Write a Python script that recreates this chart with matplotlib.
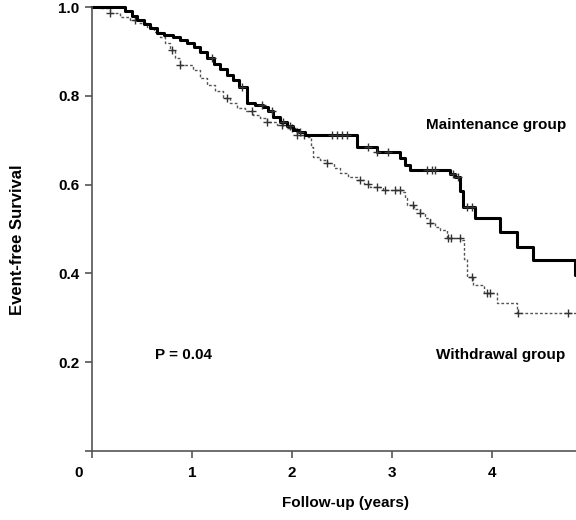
import numpy as np
import matplotlib.pyplot as plt

plt.rcParams['font.family'] = ['Liberation Sans', 'DejaVu Sans']

# Kaplan-Meier steps (time in years, survival)
maint_t = [0, 0.33, 0.40, 0.45, 0.52, 0.58, 0.65, 0.72, 0.81, 0.88, 0.95, 1.02, 1.08, 1.15, 1.22,
           1.28, 1.35, 1.41, 1.47, 1.55, 1.63, 1.71, 1.76, 1.81, 1.88, 1.95, 2.01, 2.07, 2.13, 2.65,
           2.85, 3.08, 3.13, 3.18, 3.58, 3.63, 3.68, 3.71, 3.83, 4.08, 4.25, 4.41, 4.83, 4.84]
maint_s = [1.0, 0.99, 0.98, 0.971, 0.962, 0.952, 0.941, 0.937, 0.932, 0.926, 0.919, 0.91, 0.898, 0.885, 0.872,
           0.86, 0.848, 0.836, 0.82, 0.784, 0.78, 0.775, 0.765, 0.752, 0.742, 0.733, 0.723, 0.718, 0.712, 0.685,
           0.674, 0.66, 0.645, 0.633, 0.625, 0.618, 0.585, 0.550, 0.525, 0.494, 0.460, 0.430, 0.396, 0.396]
maint_cens = [1.2, 1.5, 1.7, 1.8, 1.91, 1.98, 2.08, 2.40, 2.45, 2.50, 2.55, 2.76, 2.85, 2.96,
              3.35, 3.40, 3.43, 3.61, 3.66, 3.75, 3.80]

wd_t = [0, 0.08, 0.18, 0.28, 0.38, 0.47, 0.55, 0.62, 0.68, 0.73, 0.78, 0.83, 0.88, 1.01, 1.08,
        1.15, 1.23, 1.31, 1.38, 1.45, 1.53, 1.61, 1.68, 1.75, 1.85, 1.95, 2.05, 2.16, 2.19, 2.21,
        2.28, 2.35, 2.42, 2.48, 2.56, 2.65, 2.72, 2.78, 2.91, 3.11, 3.13, 3.15, 3.22, 3.28, 3.33,
        3.38, 3.43, 3.48, 3.55, 3.70, 3.72, 3.75, 3.81, 3.92, 4.05, 4.25, 4.84]
wd_s = [1.0, 0.998, 0.986, 0.978, 0.971, 0.963, 0.955, 0.944, 0.932, 0.918, 0.903, 0.886, 0.869, 0.858, 0.841,
        0.824, 0.81, 0.795, 0.783, 0.772, 0.765, 0.757, 0.749, 0.741, 0.734, 0.727, 0.712, 0.707, 0.685, 0.662,
        0.655, 0.648, 0.637, 0.626, 0.618, 0.610, 0.602, 0.595, 0.588, 0.584, 0.569, 0.554, 0.545, 0.536, 0.525,
        0.513, 0.505, 0.498, 0.480, 0.475, 0.433, 0.392, 0.374, 0.356, 0.333, 0.311, 0.311]
wd_cens = [0.18, 0.43, 0.8, 0.88, 1.35, 1.6, 1.75, 1.9, 2.0, 2.05, 2.12, 2.35, 2.68, 2.76, 2.85,
           2.93, 3.03, 3.08, 3.21, 3.28, 3.38, 3.56, 3.59, 3.68, 3.80, 3.95, 3.98, 4.26, 4.76]

x_ticks = [0, 1, 2, 3, 4]
y_ticks = [0.2, 0.4, 0.6, 0.8, 1.0]


def surv_at(t, s, times):
    idx = np.searchsorted(t, times, side='right') - 1
    return np.array(s)[idx]


fig = plt.figure(figsize=(5.76, 5.2), dpi=100)
ax = fig.add_axes([0.1597, 0.1327, 0.8403, 0.8538])

# withdrawal group: thin dashed grey
ax.step(wd_t, wd_s, where='post', color='#555555', lw=1.0, ls=(0, (2, 1.5)), clip_on=False)
ax.plot(wd_cens, surv_at(wd_t, wd_s, wd_cens), '+', color='#333333', ms=6, mew=1.0, clip_on=False)

# maintenance group: thick black
ax.step(maint_t, maint_s, where='post', color='black', lw=2.2, clip_on=False)
ax.plot(maint_cens, surv_at(maint_t, maint_s, maint_cens), '+', color='#333333', ms=6, mew=1.0, clip_on=False)

ax.set_xlim(0, 4.84)
ax.set_ylim(0, 1.0)
ax.spines['top'].set_visible(False)
ax.spines['right'].set_visible(False)
for sp in ['left', 'bottom']:
    ax.spines[sp].set_color('#555555')
    ax.spines[sp].set_linewidth(1.2)

ax.set_xticks(x_ticks)
ax.set_xticklabels([''] + [str(v) for v in x_ticks[1:]], fontsize=11, fontweight='bold')
ax.set_yticks([0] + y_ticks)
ax.set_yticklabels([''] + ['%.1f' % v for v in y_ticks], fontsize=11, fontweight='bold')
ax.tick_params(axis='both', direction='out', length=5, width=1.2, color='#555555')
ax.tick_params(axis='x', pad=6)
ax.tick_params(axis='y', pad=4)

ax.text(-0.13, -0.05, '0', fontsize=11, fontweight='bold', ha='center', va='center', clip_on=False)

ax.text(4.04, 0.734, 'Maintenance group', fontsize=11, fontweight='bold', ha='center', va='center')
ax.text(4.09, 0.216, 'Withdrawal group', fontsize=11, fontweight='bold', ha='center', va='center')
ax.text(0.63, 0.216, 'P = 0.04', fontsize=11, fontweight='bold', ha='left', va='center')

fig.text(18 / 576, 1 - 240 / 520, 'Event-free Survival', rotation=90, fontsize=12,
         fontweight='bold', ha='center', va='center')
fig.text(346 / 576, 1 - 503 / 520, 'Follow-up (years)', fontsize=11,
         fontweight='bold', ha='center', va='center')

fig.savefig('out.png', dpi=100)
